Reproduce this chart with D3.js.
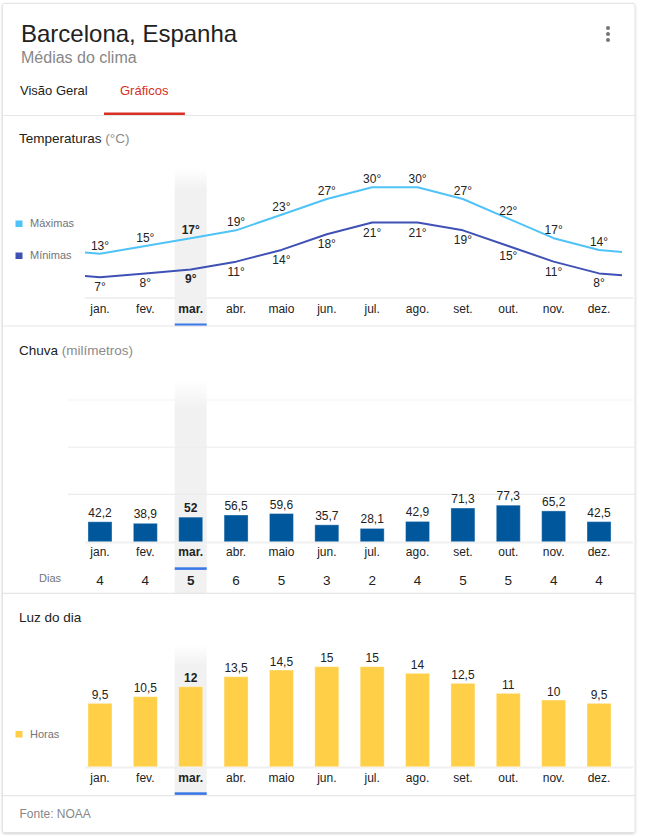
<!DOCTYPE html>
<html>
<head>
<meta charset="utf-8">
<script src="https://cdn.jsdelivr.net/npm/d3@7"></script>
<style>
  body { margin: 0; background: #fff; }
  svg text { font-family: "Liberation Sans", Arial, sans-serif; }
</style>
</head>
<body>
<svg id="chart" width="653" height="837"></svg>
<script>
const months = ["jan.", "fev.", "mar.", "abr.", "maio", "jun.", "jul.", "ago.", "set.", "out.", "nov.", "dez."];
const tempMax = [13, 15, 17, 19, 23, 27, 30, 30, 27, 22, 17, 14];
const tempMin = [7, 8, 9, 11, 14, 18, 21, 21, 19, 15, 11, 8];
const rainMm = [42.2, 38.9, 52, 56.5, 59.6, 35.7, 28.1, 42.9, 71.3, 77.3, 65.2, 42.5];
const rainDays = [4, 4, 5, 6, 5, 3, 2, 4, 5, 5, 4, 4];
const daylightHours = [9.5, 10.5, 12, 13.5, 14.5, 15, 15, 14, 12.5, 11, 10, 9.5];
const rainGridTicks = [100, 200, 300];
const selectedMonth = 2;

const colorMax = "#4fc3f7";
const colorMin = "#3f51b5";
const colorRain = "#01579b";
const colorSun = "#ffcf48";
const textDark = "#222";
const textGrey = "#70757a";
const lineGrey = "#e6e6e6";

const svg = d3.select("#chart");
const cardLeft = 2.5, cardRight = 635;

const x = d3.scaleBand()
    .domain(months)
    .range([77.3, 621.7])
    .padding(0);
const cx = (i) => x(months[0]) + x.bandwidth() / 2 + i * x.step();
const fmt = (v) => String(v).replace(".", ",");

// card
const defs = svg.append("defs");
const shadow = defs.append("filter").attr("id", "shadow").attr("x", -0.05).attr("y", -0.05).attr("width", 1.1).attr("height", 1.1);
shadow.append("feDropShadow").attr("dx", 0).attr("dy", 1).attr("stdDeviation", 1.2).attr("flood-color", "#000").attr("flood-opacity", 0.18);

svg.append("rect")
    .attr("x", cardLeft).attr("y", 3.5)
    .attr("width", cardRight - cardLeft).attr("height", 829)
    .attr("rx", 2)
    .attr("fill", "#fff")
    .attr("stroke", "#e3e3e3")
    .attr("filter", "url(#shadow)");

const hlGrad = defs.append("linearGradient").attr("id", "hl").attr("x1", 0).attr("y1", 0).attr("x2", 0).attr("y2", 1);
hlGrad.append("stop").attr("offset", 0).attr("stop-color", "#f1f1f1").attr("stop-opacity", 0);
hlGrad.append("stop").attr("offset", 0.14).attr("stop-color", "#f1f1f1").attr("stop-opacity", 1);
hlGrad.append("stop").attr("offset", 1).attr("stop-color", "#f1f1f1").attr("stop-opacity", 1);

// header
svg.append("text").attr("x", 21).attr("y", 41.7)
    .attr("font-size", 24).attr("fill", "#222").text("Barcelona, Espanha");
svg.append("text").attr("x", 21).attr("y", 63)
    .attr("font-size", 16).attr("fill", "#878787").text("Médias do clima");

svg.selectAll(".kebab")
    .data([28, 34, 40])
    .join("circle")
    .attr("class", "kebab")
    .attr("cx", 608).attr("cy", d => d).attr("r", 2)
    .attr("fill", "#757575");

svg.append("text").attr("x", 20).attr("y", 95)
    .attr("font-size", 13).attr("fill", "#222").text("Visão Geral");
const tab = svg.append("text").attr("x", 120).attr("y", 95)
    .attr("font-size", 13).attr("fill", "#d93025").text("Gráficos");
const tabBox = tab.node().getBBox();
svg.append("rect")
    .attr("x", tabBox.x - 16).attr("y", 112.5)
    .attr("width", tabBox.width + 32).attr("height", 2.5)
    .attr("fill", "#d93025");

function divider(y) {
    svg.append("line")
        .attr("x1", cardLeft).attr("x2", cardRight)
        .attr("y1", y).attr("y2", y)
        .attr("stroke", lineGrey).attr("stroke-width", 1.2);
}

function highlight(top, bottom, underlineY) {
    svg.append("rect")
        .attr("x", cx(selectedMonth) - 16).attr("y", top)
        .attr("width", 32).attr("height", bottom - top)
        .attr("fill", "url(#hl)");
    svg.append("rect")
        .attr("x", cx(selectedMonth) - 16).attr("y", underlineY)
        .attr("width", 32).attr("height", 2.6)
        .attr("fill", "#3b78e7");
}

function sectionTitle(y, main, unit) {
    const t = svg.append("text").attr("x", 19).attr("y", y)
        .attr("font-size", 13.5).attr("fill", "#222");
    t.append("tspan").text(main);
    if (unit) t.append("tspan").attr("fill", "#8a8a8a").text(" " + unit);
}

function baseline(y) {
    svg.append("line")
        .attr("x1", 85).attr("x2", 633)
        .attr("y1", y).attr("y2", y)
        .attr("stroke", "#f0f0f0").attr("stroke-width", 2);
}

function monthLabels(y) {
    svg.append("g").selectAll("text")
        .data(months)
        .join("text")
        .attr("x", (d, i) => cx(i))
        .attr("y", y)
        .attr("text-anchor", "middle")
        .attr("font-size", 12)
        .attr("font-weight", (d, i) => i === selectedMonth ? "bold" : "normal")
        .attr("fill", textDark)
        .text(d => d);
}

function legendItem(y, color, label) {
    svg.append("rect").attr("x", 15.5).attr("y", y - 6.5)
        .attr("width", 7).attr("height", 6.5).attr("fill", color);
    svg.append("text").attr("x", 30).attr("y", y)
        .attr("font-size", 11).attr("fill", textGrey).text(label);
}

function valueLabels(values, yOf, offset, format) {
    svg.append("g").selectAll("text")
        .data(values)
        .join("text")
        .attr("x", (d, i) => cx(i))
        .attr("y", d => yOf(d) + offset)
        .attr("text-anchor", "middle")
        .attr("font-size", 12)
        .attr("font-weight", (d, i) => i === selectedMonth ? "bold" : "normal")
        .attr("fill", textDark)
        .text(format);
}

function bars(values, y, color) {
    const w = 24;
    svg.append("g").selectAll("rect")
        .data(values)
        .join("rect")
        .attr("x", (d, i) => cx(i) - w / 2)
        .attr("y", d => y(d))
        .attr("width", w)
        .attr("height", d => y(0) - y(d))
        .attr("fill", color)
        .attr("stroke", "rgba(255,255,255,0.35)")
        .attr("stroke-width", 1);
}

// ---- Temperaturas ----
divider(115.5);
highlight(168, 326, 323.5);
sectionTitle(143.3, "Temperaturas", "(°C)");
baseline(298);

const yTemp = d3.scaleLinear().domain([7, 30]).range([277.3, 187.3]);

defs.append("clipPath").attr("id", "tempClip")
    .append("rect").attr("x", 85).attr("y", 150).attr("width", 622 - 85).attr("height", 160);

// wrap around the year so the line runs to both edges
function wrapped(values) {
    const pts = values.map((v, i) => ({ i, v }));
    return [{ i: -1, v: values[values.length - 1] }, ...pts, { i: values.length, v: values[0] }];
}

const tempLine = d3.line()
    .x(d => cx(d.i))
    .y(d => yTemp(d.v));

[[tempMax, colorMax], [tempMin, colorMin]].forEach(([values, color]) => {
    svg.append("path")
        .datum(wrapped(values))
        .attr("clip-path", "url(#tempClip)")
        .attr("fill", "none")
        .attr("stroke", color)
        .attr("stroke-width", 2)
        .attr("stroke-linejoin", "round")
        .attr("d", tempLine);
});

valueLabels(tempMax, yTemp, -4, d => d + "°");
valueLabels(tempMin, yTemp, 14, d => d + "°");
monthLabels(312.5);
legendItem(227, colorMax, "Máximas");
legendItem(259, colorMin, "Mínimas");

// ---- Chuva ----
divider(326);
highlight(380, 593, 567.3);
sectionTitle(354.5, "Chuva", "(milímetros)");

const yRain = d3.scaleLinear().domain([0, 300]).range([541.7, 400]);

svg.append("g").selectAll("line")
    .data(rainGridTicks)
    .join("line")
    .attr("x1", 68).attr("x2", cardRight)
    .attr("y1", d => yRain(d)).attr("y2", d => yRain(d))
    .attr("stroke", (d, i) => i === rainGridTicks.length - 1 ? "#f3f3f3" : "#ececec")
    .attr("stroke-width", 1.2);
baseline(542.5);

bars(rainMm, yRain, colorRain);
valueLabels(rainMm, yRain, -5, fmt);
monthLabels(556);

svg.append("text").attr("x", 39).attr("y", 582)
    .attr("font-size", 11).attr("fill", textGrey).text("Dias");
svg.append("g").selectAll("text")
    .data(rainDays)
    .join("text")
    .attr("x", (d, i) => cx(i))
    .attr("y", 585)
    .attr("text-anchor", "middle")
    .attr("font-size", 13.5)
    .attr("font-weight", (d, i) => i === selectedMonth ? "bold" : "normal")
    .attr("fill", textDark)
    .text(d => d);

// ---- Luz do dia ----
divider(593.3);
highlight(645, 795.7, 792.3);
sectionTitle(621.5, "Luz do dia");

const ySun = d3.scaleLinear().domain([0, 15]).range([766.7, 666.7]);
baseline(767.5);
bars(daylightHours, ySun, colorSun);
valueLabels(daylightHours, ySun, -4.5, fmt);
monthLabels(782.3);
legendItem(737.5, colorSun, "Horas");

// ---- footer ----
divider(795.7);
svg.append("text").attr("x", 19.5).attr("y", 817.7)
    .attr("font-size", 12).attr("fill", "#878787").text("Fonte: NOAA");
</script>
</body>
</html>
